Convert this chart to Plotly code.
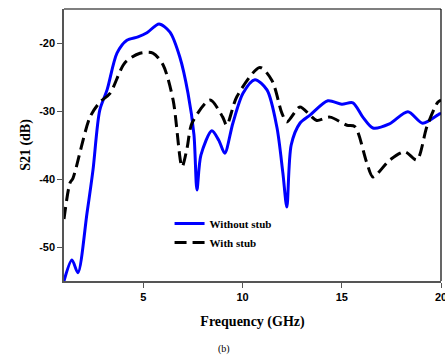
import plotly.graph_objects as go

freq_without = [1.0, 1.4, 1.7, 2.16, 2.46, 2.8, 3.17, 3.67, 4.17, 4.73, 5.18, 5.79, 6.34, 6.84, 7.25,
                7.55, 7.7, 7.9, 8.45, 8.8, 9.1, 9.51, 10.02, 10.62, 11.23, 11.73, 12.03, 12.23, 12.45,
                12.89, 13.4, 14.3, 15.0, 15.56, 16.06, 16.57, 17.4, 18.33, 19.08, 19.94, 20.0]
s21_without = [-55.0, -51.9, -53.8, -45.0, -38.7, -29.9, -26.9, -21.5, -19.6, -19.1, -18.5, -17.2, -18.4,
               -22.1, -27.4, -33.5, -41.6, -36.5, -32.9, -34.3, -36.2, -31.8, -27.4, -25.4, -26.9, -32.4,
               -39.1, -44.1, -35.0, -31.8, -30.6, -28.5, -29.0, -28.8, -30.9, -32.5, -31.9, -30.1, -31.8,
               -30.4, -30.4]

freq_with = [1.0, 1.3, 1.45, 2.31, 2.81, 3.32, 4.07, 4.83, 5.48, 5.99, 6.5, 6.95, 7.2, 7.45, 8.36, 9.0,
             9.2, 9.71, 10.87, 11.48, 11.98, 12.23, 12.89, 13.39, 13.74, 14.4, 15.26, 15.66, 16.26, 16.57,
             17.42, 18.18, 18.78, 19.29, 19.84, 20.0]
s21_with = [-45.9, -40.6, -39.9, -30.9, -28.7, -27.4, -22.9, -21.5, -21.5, -23.2, -28.4, -38.2, -35.5,
            -31.8, -28.4, -30.9, -32.1, -27.9, -23.6, -25.5, -30.3, -31.6, -29.4, -30.6, -31.4, -30.9,
            -32.1, -32.3, -37.6, -39.7, -37.2, -36.0, -37.2, -32.3, -28.7, -28.4]

x_ticks = [5, 10, 15, 20]
x_ticklabels = ["5", "10", "15", "20"]
y_ticks = [-20, -30, -40, -50]
y_ticklabels = ["-20", "-30", "-40", "-50"]

fig = go.Figure()
fig.add_trace(go.Scatter(x=freq_without, y=s21_without, mode="lines", name="Without stub",
                         line=dict(color="#0000ff", width=3, shape="spline", smoothing=0.8)))
fig.add_trace(go.Scatter(x=freq_with, y=s21_with, mode="lines", name="With stub",
                         line=dict(color="#000000", width=3, dash="12px,6px", shape="spline", smoothing=0.8)))

tickfont = dict(family="Liberation Sans, Arial", size=11, color="#000", weight="bold")
titlefont = dict(family="Liberation Serif, Times New Roman", size=14, color="#000", weight="bold")

fig.update_layout(
    width=445, height=360,
    margin=dict(l=64, r=4, t=9, b=79),
    paper_bgcolor="white", plot_bgcolor="white",
    showlegend=True,
    legend=dict(x=0.28, y=0.265, xanchor="left", yanchor="top", bgcolor="rgba(0,0,0,0)",
                font=dict(family="Liberation Serif, Times New Roman", size=11, color="#000", weight="bold"),
                itemwidth=30, tracegroupgap=0),
    xaxis=dict(range=[1, 20], tickvals=x_ticks, ticktext=x_ticklabels, ticks="outside", ticklen=5,
               tickwidth=1, tickcolor="#555", ticklabeloverflow="allow", automargin=False,
               showgrid=False, zeroline=False, showline=True, linecolor="#555", linewidth=1.5,
               tickfont=tickfont, title=dict(text="Frequency (GHz)", font=titlefont, standoff=14)),
    yaxis=dict(range=[-55, -15], tickvals=y_ticks, ticktext=y_ticklabels, ticks="outside", ticklen=5,
               tickwidth=1, tickcolor="#555", automargin=False,
               showgrid=False, zeroline=False, showline=True, linecolor="#555", linewidth=1.5,
               tickfont=tickfont, title=dict(text="S21 (dB)", font=titlefont, standoff=5)),
    shapes=[
        dict(type="line", xref="paper", yref="paper", x0=0, x1=1, y0=1, y1=1, line=dict(color="#000", width=1.2)),
        dict(type="line", xref="paper", yref="paper", x0=1, x1=1, y0=0, y1=1, line=dict(color="#000", width=1.2)),
    ],
    annotations=[dict(text="(b)", xref="paper", yref="paper", x=0.425, y=-0.25, xanchor="center",
                      yanchor="middle", showarrow=False,
                      font=dict(family="Liberation Serif, Times New Roman", size=10, color="#000"))],
)

fig.write_html("out.html")
